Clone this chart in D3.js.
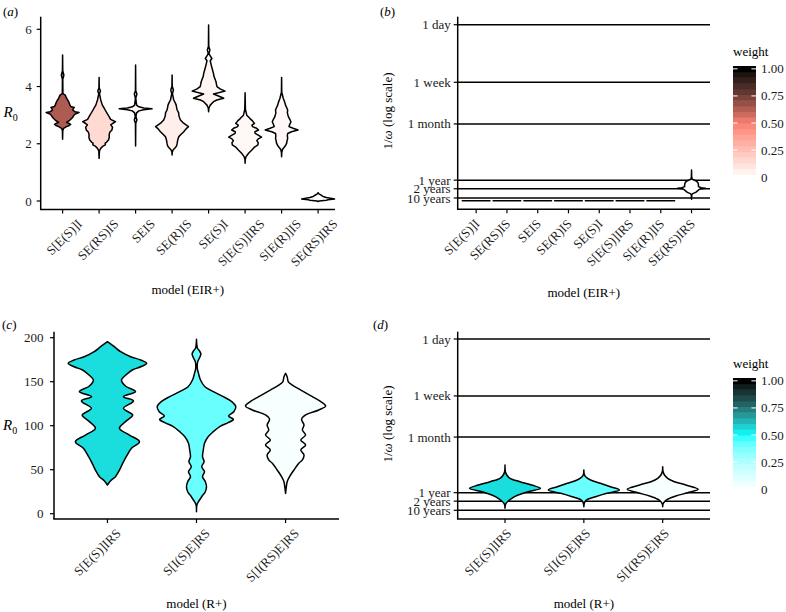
<!DOCTYPE html>
<html><head><meta charset="utf-8">
<script src="https://cdn.jsdelivr.net/npm/d3@7"></script>
<style>body{margin:0;background:#fff}</style>
</head><body>
<svg id="chart" width="786" height="612"></svg>
<script>
// ---------------- DATA ----------------
const catsEIR = ["S[E(S)]I","SE(RS)IS","SEIS","SE(R)IS","SE(S)I","S[E(S)]IRS","S[E(R)]IS","SE(RS)IRS"];
const catsR = ["S[E(S)]IRS","S[I(S)E]RS","S[I(RS)E]RS"];
const weightsEIR = [0.64,0.15,0.04,0.07,0.04,0.03,0.03,0.0];
const weightsR = [0.56,0.41,0.03];
const r0TicksEIR = [0,2,4,6];
const r0TicksR = [0,50,100,150,200];
const waningTickValues = [1, 1/7, 1/30, 1/365, 1/730, 1/3650]; // omega (per day)
const waningTickLabels = ["1 day","1 week","1 month","1 year","2 years","10 years"];
const legendBreaks = [0,0.25,0.5,0.75,1];
const legendLabels = ["0","0.25","0.50","0.75","1.00"];

// violin profiles: [value, relative density (0..1)]
const r0ProfilesEIR = [
 [[5.10,0],[4.55,0.01],[4.40,0.08],[4.25,0.01],[3.75,0.02],[3.70,0.16],[3.59,0.24],[3.47,0.37],[3.35,0.45],[3.30,0.5],[3.27,0.71],[3.22,0.65],[3.18,0.61],[3.12,0.75],[3.09,1.0],[3.05,0.8],[3.01,0.71],[2.92,0.61],[2.83,0.45],[2.75,0.24],[2.71,0.4],[2.68,0.49],[2.64,0.4],[2.60,0.24],[2.54,0.06],[2.45,0.01],[2.16,0]],
 [[4.32,0],[3.95,0.01],[3.84,0.08],[3.75,0.02],[3.53,0.1],[3.42,0.16],[3.35,0.2],[3.25,0.3],[3.18,0.37],[3.05,0.5],[2.95,0.61],[2.85,0.7],[2.77,1.0],[2.70,0.8],[2.66,0.71],[2.58,0.82],[2.48,0.78],[2.40,0.65],[2.31,0.61],[2.22,0.62],[2.13,0.57],[2.05,0.45],[2.02,0.37],[1.96,0.38],[1.92,0.24],[1.84,0.1],[1.75,0.02],[1.49,0]],
 [[4.75,0],[3.85,0.01],[3.74,0.08],[3.60,0.01],[3.35,0.06],[3.29,0.2],[3.25,0.5],[3.22,1.0],[3.19,0.5],[3.15,0.2],[3.08,0.06],[2.95,0.02],[2.83,0.08],[2.72,0.01],[1.92,0]],
 [[4.40,0],[4.0,0.01],[3.88,0.08],[3.75,0.02],[3.53,0.1],[3.42,0.2],[3.35,0.25],[3.25,0.28],[3.18,0.31],[3.08,0.4],[3.0,0.41],[2.92,0.45],[2.83,0.51],[2.72,0.7],[2.60,1.0],[2.52,0.85],[2.42,0.71],[2.33,0.55],[2.25,0.41],[2.15,0.35],[2.02,0.31],[1.92,0.27],[1.84,0.16],[1.78,0.06],[1.70,0.01],[1.61,0]],
 [[6.15,0],[5.40,0.01],[5.28,0.08],[5.15,0.02],[5.07,0.1],[4.98,0.2],[4.90,0.1],[4.75,0.16],[4.58,0.24],[4.45,0.3],[4.35,0.33],[4.25,0.4],[4.17,0.45],[4.08,0.48],[4.00,0.51],[3.92,0.7],[3.84,1.0],[3.78,0.6],[3.74,0.3],[3.67,0.6],[3.59,0.92],[3.53,0.5],[3.47,0.3],[3.35,0.1],[3.25,0.02],[3.12,0]],
 [[3.78,0],[3.20,0.02],[3.00,0.1],[2.88,0.3],[2.80,0.45],[2.71,0.57],[2.65,0.42],[2.60,0.45],[2.54,0.7],[2.48,0.82],[2.42,0.6],[2.36,0.61],[2.30,0.8],[2.23,1.0],[2.17,0.8],[2.11,0.71],[2.04,0.8],[1.96,0.78],[1.87,0.55],[1.78,0.41],[1.66,0.2],[1.55,0.06],[1.45,0.01],[1.32,0]],
 [[4.32,0],[3.80,0.01],[3.59,0.1],[3.47,0.18],[3.35,0.24],[3.25,0.32],[3.18,0.37],[3.08,0.35],[2.95,0.41],[2.85,0.5],[2.77,0.57],[2.68,0.5],[2.60,0.45],[2.54,0.7],[2.48,1.0],[2.42,0.6],[2.36,0.37],[2.28,0.35],[2.19,0.37],[2.10,0.33],[2.02,0.31],[1.95,0.25],[1.88,0.16],[1.81,0.06],[1.70,0.01],[1.55,0]],
 [[0.29,0],[0.25,0.05],[0.21,0.16],[0.16,0.3],[0.12,0.5],[0.07,1.0],[0.04,0.6],[0.03,0.5],[0.0,0.06],[-0.02,0]]
];
const waningProfilesEIR = [
 [[0,1],[0,1]],[[0,1],[0,1]],[[0,1],[0,1]],[[0,1],[0,1]],[[0,1],[0,1]],[[0,1],[0,1]],[[0,1],[0,1]],
 [[0.00496,0],[0.0034,0.01],[0.0029,0.05],[0.00264,0.3],[0.00236,0.45],[0.00197,0.5],[0.00167,0.5],[0.00152,0.7],[0.00143,1.0],[0.00134,0.6],[0.00111,0.45],[0.0009,0.3],[0.00075,0.08],[0.00063,0.02],[0.000146,0]]
];
const r0ProfilesR = [
 [[195.5,0],[189.8,0.17],[184.1,0.33],[178.4,0.58],[174.7,0.83],[170.9,0.98],[167.0,0.83],[163.3,0.62],[157.6,0.46],[152.0,0.35],[145.1,0.45],[138.7,0.7],[133.0,0.4],[128.1,0.65],[119.7,0.4],[112.1,0.63],[104.6,0.45],[97.0,0.3],[89.4,0.55],[81.8,0.8],[74.3,0.6],[64.8,0.47],[57.2,0.38],[49.6,0.3],[42.1,0.2],[37.5,0.08],[32.6,0]],
 [[198.2,0],[188.0,0.025],[185.3,0.07],[181.5,0.11],[176.6,0.07],[172.8,0.03],[165.2,0.02],[159.5,0.05],[151.9,0.1],[144.3,0.21],[138.7,0.42],[133.0,0.67],[127.3,0.88],[121.6,0.98],[115.9,0.93],[111.0,0.8],[107.2,0.92],[103.5,0.79],[98.9,0.58],[93.2,0.42],[87.5,0.29],[80.0,0.2],[72.4,0.17],[64.8,0.15],[59.1,0.19],[53.4,0.13],[47.7,0.2],[42.1,0.15],[36.4,0.22],[30.7,0.25],[25.0,0.22],[19.3,0.13],[13.6,0.05],[9.8,0.01],[2.3,0]],
 [[159.5,0],[155.7,0.04],[149.9,0.07],[146.2,0.17],[140.5,0.38],[133.0,0.67],[127.3,0.88],[122.4,1.0],[117.9,0.83],[112.2,0.5],[107.3,0.4],[100.8,0.46],[95.1,0.42],[89.4,0.5],[83.8,0.38],[78.1,0.5],[72.4,0.38],[66.7,0.46],[61.1,0.42],[57.3,0.33],[49.7,0.21],[42.1,0.1],[36.4,0.04],[30.7,0.02],[23.1,0]]
];
const waningProfilesR = [
 [[0.01126,0],[0.0085,0.01],[0.00723,0.05],[0.00618,0.14],[0.00521,0.42],[0.00437,0.75],[0.00361,1.0],[0.00292,0.65],[0.00232,0.37],[0.00179,0.19],[0.00129,0.07],[0.00108,0.03],[0.0009,0.01],[0.000485,0]],
 [[0.00907,0],[0.0075,0.01],[0.00667,0.05],[0.00567,0.19],[0.00478,0.47],[0.00396,0.75],[0.00325,1.0],[0.00262,0.65],[0.00204,0.33],[0.00164,0.11],[0.00129,0.03],[0.001,0.01],[0.000665,0]],
 [[0.01047,0],[0.0085,0.01],[0.00723,0.05],[0.00618,0.14],[0.00521,0.33],[0.00437,0.65],[0.0034,1.0],[0.00273,0.7],[0.00215,0.37],[0.00164,0.14],[0.00129,0.05],[0.001,0.01],[0.000665,0]]
];

// ---------------- DRAWING ----------------
const FONT = '"Liberation Serif"';
const svg = d3.select("#chart");
const colorEIR = d3.scaleLinear().domain([0,0.5,1]).range(["#ffffff","salmon","#000000"]).interpolate(d3.interpolateLab);
const colorR = d3.scaleLinear().domain([0,0.5,1]).range(["#ffffff","cyan","#000000"]).interpolate(d3.interpolateLab);
const TXT = "#1a1a1a";

function T(sel, size){ return sel.style("font-family", FONT).attr("font-size", size); }

function panel(cfg){
  const g = svg.append("g");
  const x = d3.scalePoint().domain(cfg.cats).range([cfg.left, cfg.right]).padding(0.6);
  const half = x.step()*0.45;
  const y = cfg.y;
  const axisEnd = cfg.axisEnd || cfg.right;
  if (cfg.grid){
    g.selectAll(".grid").data(cfg.yTicks).join("line")
      .attr("x1", cfg.left).attr("x2", axisEnd)
      .attr("y1", d=>y(d)).attr("y2", d=>y(d))
      .attr("stroke","#000").attr("stroke-width",1.5);
  }
  cfg.profiles.forEach((prof,i)=>{
    const cx = x(cfg.cats[i]);
    const area = d3.area().curve(cfg.curve)
      .y(d=>y(d[0]))
      .x0(d=>cx - d[1]*half).x1(d=>cx + d[1]*half);
    g.append("path").attr("d", area(prof))
      .attr("fill", cfg.color(cfg.weights[i]))
      .attr("stroke","#000").attr("stroke-width",1.5)
      .attr("stroke-linejoin","round");
  });
  g.append("line").attr("x1",cfg.left).attr("x2",cfg.left).attr("y1",cfg.top).attr("y2",cfg.bottom)
    .attr("stroke","#000").attr("stroke-width",1.5);
  g.append("line").attr("x1",cfg.left-0.75).attr("x2",axisEnd).attr("y1",cfg.bottom).attr("y2",cfg.bottom)
    .attr("stroke","#000").attr("stroke-width",1.5);
  g.selectAll(".yt").data(cfg.yTicks).join("line")
    .attr("x1",cfg.left-4).attr("x2",cfg.left).attr("y1",d=>y(d)).attr("y2",d=>y(d))
    .attr("stroke","#000").attr("stroke-width",1.2);
  T(g.selectAll(".yl").data(cfg.yTicks).join("text"),13)
    .attr("x",cfg.left-cfg.yLabelGap).attr("y",d=>y(d)).attr("dy","0.35em")
    .attr("text-anchor","end").attr("fill",TXT)
    .text((d,i)=>cfg.yLabels[i]);
  g.selectAll(".xt").data(cfg.cats).join("line")
    .attr("x1",d=>x(d)).attr("x2",d=>x(d)).attr("y1",cfg.bottom).attr("y2",cfg.bottom+4)
    .attr("stroke","#000").attr("stroke-width",1.2);
  T(g.selectAll(".xl").data(cfg.cats).join("text"),13)
    .attr("transform",d=>`translate(${x(d)+cfg.xlDx},${cfg.bottom+12}) rotate(-45)`)
    .attr("text-anchor","end").attr("dy","0.35em")
    .attr("fill",TXT).text(d=>d);
  T(g.append("text"),13).attr("x",(cfg.left+axisEnd)/2).attr("y",cfg.xTitleY)
    .attr("text-anchor","middle").attr("fill","#000").text(cfg.xTitle);
  const tag = T(g.append("text"),13).attr("x",cfg.tagX).attr("y",cfg.tagY);
  tag.append("tspan").text("(");
  tag.append("tspan").attr("font-style","italic").text(cfg.tag);
  tag.append("tspan").text(")");
  return {g,x,y};
}

function r0Title(xp, yp){
  const t = T(svg.append("text"),15).attr("x",xp).attr("y",yp);
  t.append("tspan").attr("font-style","italic").text("R");
  t.append("tspan").attr("font-size",10).attr("dy",4).text("0");
}
function waningTitle(xp, yp){
  const t = T(svg.append("text"),13).attr("transform",`translate(${xp},${yp}) rotate(-90)`)
    .attr("text-anchor","middle");
  t.append("tspan").text("1/");
  t.append("tspan").attr("font-style","italic").text("ω");
  t.append("tspan").text(" (log scale)");
}
function legend(xp, top, bottom, color){
  const nbin = 20, h = (bottom-top)/nbin, w = 23;
  const vals = d3.range(nbin).map(i=>i/(nbin-1));
  const ls = d3.scaleLinear().domain([0,1]).range([bottom-h/2, top+h/2]);
  const g = svg.append("g");
  T(g.append("text"),13).attr("x",xp).attr("y",top-10).text("weight");
  g.selectAll("rect").data(vals).join("rect")
    .attr("x",xp).attr("width",w)
    .attr("y",(d,i)=>bottom-(i+1)*h).attr("height",h+0.5)
    .attr("fill",d=>color(d));
  legendBreaks.forEach((b,i)=>{
    const yy = ls(b);
    g.append("line").attr("x1",xp).attr("x2",xp+4.6).attr("y1",yy).attr("y2",yy).attr("stroke","#fff").attr("stroke-width",1);
    g.append("line").attr("x1",xp+w-4.6).attr("x2",xp+w).attr("y1",yy).attr("y2",yy).attr("stroke","#fff").attr("stroke-width",1);
    T(g.append("text"),13).attr("x",xp+w+5).attr("y",yy).attr("dy","0.35em").attr("fill",TXT).text(legendLabels[i]);
  });
}

const omegaC = 1/365;
panel({cats:catsEIR, weights:weightsEIR, profiles:r0ProfilesEIR, color:colorEIR,
  left:40.7, right:340, axisEnd:335, top:16.7, bottom:209.5,
  y:d3.scaleLinear().domain([0,6]).range([201,29.3]),
  yTicks:r0TicksEIR, yLabels:r0TicksEIR.map(String), yLabelGap:9,
  curve:d3.curveLinear, grid:false, xlDx:17, xTitle:"model (EIR+)", xTitleY:294,
  tag:"a", tagX:3, tagY:16});
r0Title(3.5,117);

panel({cats:catsEIR, weights:weightsEIR, profiles:waningProfilesEIR, color:colorEIR,
  left:457.7, right:710, top:16.7, bottom:209.3,
  y:d3.scaleSymlog().constant(omegaC).domain([1/3650,1]).range([198,24.7]),
  yTicks:waningTickValues, yLabels:waningTickLabels, yLabelGap:7,
  curve:d3.curveLinear, grid:true, xlDx:1, xTitle:"model (EIR+)", xTitleY:297,
  tag:"b", tagX:380, tagY:16});
waningTitle(392,111);
legend(733, 66, 180, colorEIR);

panel({cats:catsR, weights:weightsR, profiles:r0ProfilesR, color:colorR,
  left:54, right:339, top:331.7, bottom:519,
  y:d3.scaleLinear().domain([0,200]).range([513.7,337.7]),
  yTicks:r0TicksR, yLabels:r0TicksR.map(String), yLabelGap:10.5,
  curve:d3.curveCatmullRom, grid:false, xlDx:11, xTitle:"model (R+)", xTitleY:608,
  tag:"c", tagX:2, tagY:329});
r0Title(3,430);

panel({cats:catsR, weights:weightsR, profiles:waningProfilesR, color:colorR,
  left:457.7, right:710, top:331.7, bottom:519,
  y:d3.scaleSymlog().constant(omegaC).domain([1/3650,1]).range([510.3,339]),
  yTicks:waningTickValues, yLabels:waningTickLabels, yLabelGap:7,
  curve:d3.curveCatmullRom, grid:true, xlDx:4, xTitle:"model (R+)", xTitleY:608,
  tag:"d", tagX:373, tagY:329});
waningTitle(392,424);
legend(733, 378, 492, colorR);
</script>
</body></html>
